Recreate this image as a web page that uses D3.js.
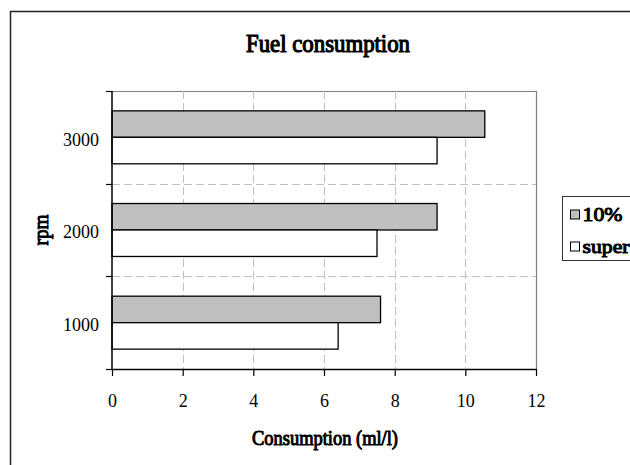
<!DOCTYPE html>
<html>
<head>
<meta charset="utf-8">
<script src="https://cdn.jsdelivr.net/npm/d3@7"></script>
<style>
  html, body { margin: 0; padding: 0; background: #fff; }
  svg { display: block; font-family: "Liberation Serif", "Times New Roman", serif; }
  .heavy { font-family: "Liberation Serif", serif; font-weight: normal; stroke: #000; stroke-width: 1px; fill: #000; stroke-linejoin: round; }
</style>
</head>
<body>
<svg id="chart" width="630" height="465"></svg>
<script>
// Fuel consumption per engine speed for two fuels
const categories = ["1000", "2000", "3000"];
const seriesNames = ["10%", "super"];
const blend10 = [7.6, 9.2, 10.55];
const superFuel = [6.4, 7.5, 9.2];
const xTicks = [0, 2, 4, 6, 8, 10, 12];
const seriesFill = { "10%": "#c0c0c0", "super": "#ffffff" };

const values = { "10%": blend10, "super": superFuel };

const svg = d3.select("#chart");
const W = 630, H = 465;
const plot = { left: 112, top: 91, right: 536, bottom: 369 };

// outer chart frame (continues past the right and bottom edges)
svg.append("rect")
  .attr("x", 10.5).attr("y", 11.5)
  .attr("width", W + 20).attr("height", H + 20)
  .attr("fill", "#fff").attr("stroke", "#222").attr("stroke-width", 1.5);

const x = d3.scaleLinear().domain([0, 12]).range([plot.left, plot.right]);
const y = d3.scaleBand().domain(categories).range([plot.bottom, plot.top]).padding(0);
const yInner = d3.scaleBand().domain(seriesNames).range([0, y.bandwidth()])
  .paddingInner(0).paddingOuter(0.75);

// plot frame: gray top/right edges
svg.append("path")
  .attr("d", `M${plot.left},${plot.top + 0.5}H${plot.right + 0.5}V${plot.bottom}`)
  .attr("fill", "none").attr("stroke", "#808080").attr("stroke-width", 1.2);

// dashed gridlines
const grid = svg.append("g").attr("stroke", "#c0c0c0").attr("stroke-width", 1)
  .attr("stroke-dasharray", "8,4");
grid.selectAll("line.v").data(xTicks.filter(t => t > 0 && t < 12)).join("line")
  .attr("x1", d => Math.round(x(d)) + 0.5).attr("x2", d => Math.round(x(d)) + 0.5)
  .attr("y1", plot.top).attr("y2", plot.bottom);
const boundaries = categories.slice(0, -1).map(c => y(c));
grid.selectAll("line.h").data(boundaries).join("line")
  .attr("x1", plot.left).attr("x2", plot.right)
  .attr("y1", d => Math.round(d) + 0.5).attr("y2", d => Math.round(d) + 0.5);

// bars
const rows = [];
categories.forEach((c, i) => seriesNames.forEach(s => rows.push({ c, s, v: values[s][i] })));
svg.append("g").selectAll("rect").data(rows).join("rect")
  .attr("x", x(0))
  .attr("y", d => y(d.c) + yInner(d.s))
  .attr("width", d => x(d.v) - x(0))
  .attr("height", yInner.bandwidth())
  .attr("fill", d => seriesFill[d.s])
  .attr("stroke", "#000").attr("stroke-width", 1.3);

// x axis
const xAxis = svg.append("g").attr("transform", `translate(0,${plot.bottom})`)
  .call(d3.axisBottom(x).tickValues(xTicks).tickSize(7).tickPadding(18).tickSizeOuter(0));
xAxis.select(".domain").attr("stroke", "#000").attr("stroke-width", 1.5);
xAxis.selectAll(".tick line").attr("stroke", "#000").attr("stroke-width", 1.2);
xAxis.selectAll("text").attr("font-size", 18).attr("font-family", "Liberation Serif").attr("fill", "#000");

// y axis: category labels with ticks on band boundaries
const yAxisG = svg.append("g").attr("transform", `translate(${plot.left},0)`);
yAxisG.append("line").attr("x1", 0).attr("x2", 0)
  .attr("y1", plot.top).attr("y2", plot.bottom)
  .attr("stroke", "#000").attr("stroke-width", 1.5);
const allBounds = [plot.top, ...boundaries, plot.bottom];
yAxisG.selectAll("line.tick").data(allBounds).join("line")
  .attr("x1", -6).attr("x2", 0)
  .attr("y1", d => Math.round(d) + 0.5).attr("y2", d => Math.round(d) + 0.5)
  .attr("stroke", "#000").attr("stroke-width", 1.2);
yAxisG.selectAll("text").data(categories).join("text")
  .attr("x", -13)
  .attr("y", d => y(d) + y.bandwidth() / 2 + 2)
  .attr("dy", "0.35em")
  .attr("text-anchor", "end")
  .attr("font-size", 18)
  .text(d => d);

// title
svg.append("text").attr("class", "heavy")
  .attr("x", 328).attr("y", 51.5)
  .attr("text-anchor", "middle")
  .attr("font-size", 25).style("stroke-width", "1.2px")
  .attr("textLength", 164).attr("lengthAdjust", "spacingAndGlyphs")
  .text("Fuel consumption");

// axis titles
svg.append("text").attr("class", "heavy")
  .attr("x", (plot.left + plot.right) / 2 + 1).attr("y", 444.5)
  .attr("text-anchor", "middle")
  .attr("font-size", 20)
  .attr("textLength", 146).attr("lengthAdjust", "spacingAndGlyphs")
  .text("Consumption (ml/l)");

svg.append("text").attr("class", "heavy")
  .attr("transform", `translate(48,${(plot.top + plot.bottom) / 2}) rotate(-90)`)
  .attr("text-anchor", "middle")
  .attr("font-size", 20)
  .attr("textLength", 31).attr("lengthAdjust", "spacingAndGlyphs")
  .text("rpm");

// legend (box continues past the right edge)
const legend = svg.append("g").attr("transform", "translate(562.5,196.5)");
legend.append("rect")
  .attr("width", 100).attr("height", 64)
  .attr("fill", "#fff").attr("stroke", "#333").attr("stroke-width", 1);
const items = legend.selectAll("g.item").data(seriesNames).join("g")
  .attr("transform", (d, i) => `translate(8,${18 + i * 32})`);
items.append("rect")
  .attr("x", 0).attr("y", -4.5).attr("width", 9).attr("height", 9)
  .attr("fill", d => seriesFill[d]).attr("stroke", "#000").attr("stroke-width", 1);
items.append("text").attr("class", "heavy")
  .attr("x", 12).attr("y", 0).attr("dy", "0.35em")
  .attr("font-size", 19)
  .attr("textLength", (d, i) => i === 0 ? 40 : 47)
  .attr("lengthAdjust", "spacingAndGlyphs")
  .text(d => d);
</script>
</body>
</html>
